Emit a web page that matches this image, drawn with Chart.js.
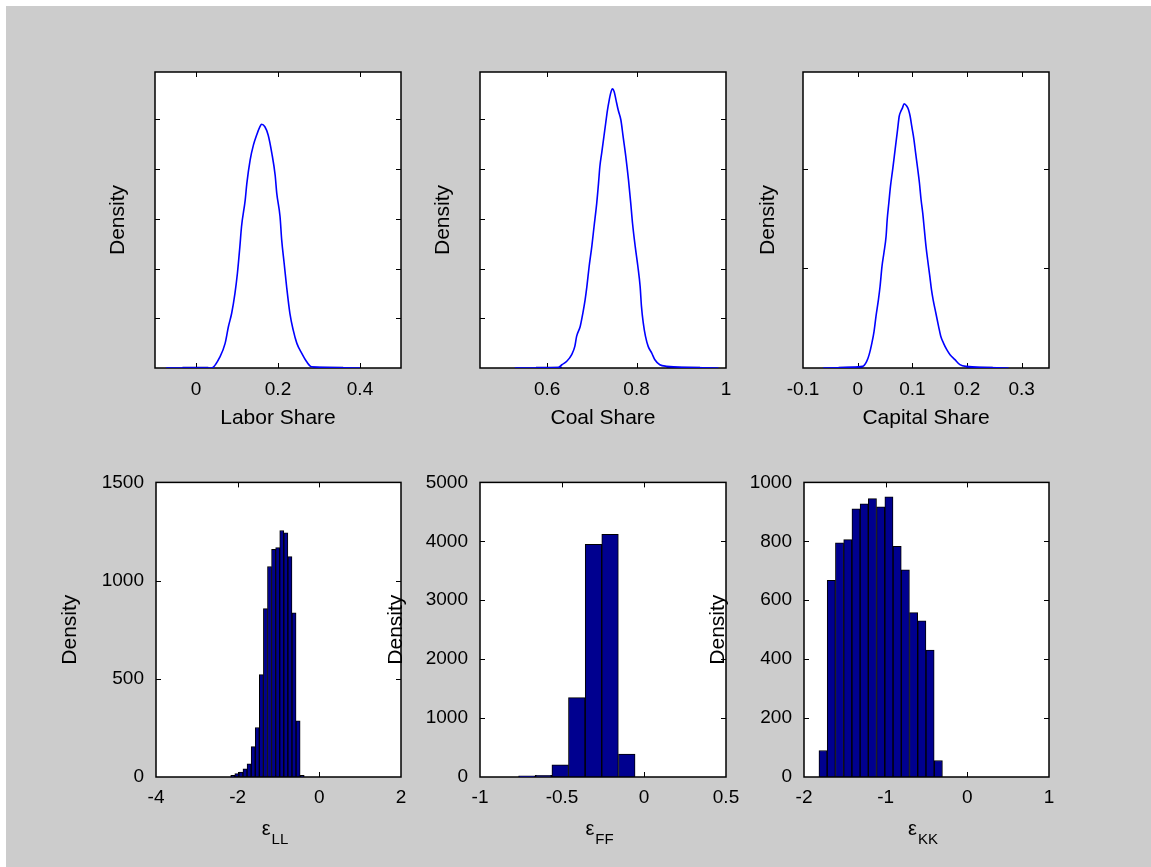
<!DOCTYPE html>
<html>
<head>
<meta charset="utf-8">
<script src="https://cdn.jsdelivr.net/npm/chart.js@4.4.1/dist/chart.umd.min.js"></script>
<style>
  html, body { margin: 0; background: #fff; }
  #fig { position: absolute; left: 6px; top: 6px; width: 1145px; height: 861px; background: #cccccc; }
  canvas { position: absolute; }
</style>
</head>
<body>
<div id="fig"></div>
<script>
// kernel density of the cost shares
const laborShareX = [-0.073, 0.038, 0.0585, 0.071, 0.079, 0.087, 0.095, 0.101, 0.107, 0.111, 0.120, 0.124, 0.132, 0.140, 0.148, 0.156, 0.160, 0.168, 0.176, 0.185, 0.193, 0.197, 0.205, 0.209, 0.215, 0.221, 0.229, 0.237, 0.246, 0.258, 0.270, 0.282, 0.400];
const laborShareDensity = [0, 0, 0.45, 0.99, 1.66, 2.20, 3.00, 3.81, 4.88, 5.68, 6.75, 7.42, 8.36, 8.96, 9.37, 9.70, 9.80, 9.70, 9.37, 8.63, 7.76, 7.02, 6.08, 5.15, 4.21, 3.27, 2.20, 1.53, 0.99, 0.59, 0.25, 0.05, 0];
const laborShareTails = [[-0.033, 0.030], [0.286, 0.359]];
const laborShareTicks = [0, 0.2, 0.4];

const coalShareX = [0.528, 0.625, 0.633, 0.644, 0.655, 0.662, 0.666, 0.674, 0.680, 0.685, 0.689, 0.694, 0.700, 0.705, 0.711, 0.715, 0.718, 0.722, 0.727, 0.731, 0.735, 0.739, 0.742, 0.746, 0.750, 0.754, 0.759, 0.765, 0.770, 0.776, 0.782, 0.787, 0.791, 0.797, 0.803, 0.808, 0.811, 0.815, 0.820, 0.826, 0.834, 0.841, 0.852, 0.867, 0.983];
const coalShareDensity = [0, 0.02, 0.13, 0.27, 0.54, 0.87, 1.27, 1.67, 2.21, 2.74, 3.28, 4.08, 4.89, 5.69, 6.63, 7.43, 8.10, 8.63, 9.30, 9.84, 10.37, 10.78, 11.04, 11.22, 11.11, 10.78, 10.37, 9.97, 9.30, 8.50, 7.56, 6.63, 5.82, 4.89, 4.08, 3.28, 2.48, 1.81, 1.27, 0.87, 0.60, 0.33, 0.13, 0.07, 0];
const coalShareTails = [[0.575, 0.633], [0.867, 0.942]];
const coalShareTicks = [0.6, 0.8, 1];

const capitalShareX = [-0.063, 0.009, 0.0165, 0.021, 0.026, 0.030, 0.0335, 0.038, 0.041, 0.0445, 0.048, 0.052, 0.054, 0.057, 0.060, 0.064, 0.067, 0.070, 0.073, 0.076, 0.079, 0.082, 0.085, 0.090, 0.093, 0.096, 0.099, 0.103, 0.106, 0.110, 0.113, 0.116, 0.119, 0.122, 0.125, 0.128, 0.132, 0.135, 0.138, 0.143, 0.148, 0.152, 0.157, 0.163, 0.169, 0.178, 0.187, 0.199, 0.276];
const capitalShareDensity = [0, 0.08, 0.33, 0.67, 1.25, 1.84, 2.59, 3.43, 4.10, 5.10, 5.77, 6.61, 7.44, 8.28, 9.11, 9.95, 10.62, 11.29, 11.96, 12.63, 12.88, 13.05, 13.26, 13.13, 12.96, 12.63, 12.12, 11.45, 10.79, 9.95, 9.28, 8.44, 7.78, 6.94, 6.10, 5.43, 4.60, 3.93, 3.43, 2.76, 2.09, 1.59, 1.25, 0.92, 0.67, 0.42, 0.17, 0.08, 0];
const capitalShareTails = [[-0.035, 0.009], [0.199, 0.247]];
const capitalShareTicks = [-0.1, 0, 0.1, 0.2, 0.3];

const shareDensityTicks = [0, 2, 4, 6, 8, 10];
const capitalDensityTicks = [0, 5, 10];

// histograms of the own-price elasticities
const eLLBins = [-2.12, -2.02, -1.92, -1.82, -1.72, -1.62, -1.52, -1.42, -1.32, -1.22, -1.12, -1.02, -0.92, -0.82, -0.72, -0.62, -0.52, -0.42];
const eLLCounts = [8, 17, 25, 42, 67, 155, 252, 521, 857, 1072, 1159, 1168, 1255, 1243, 1122, 836, 286, 8];
const eLLTicksX = [-4, -2, 0, 2];
const eLLTicksY = [0, 500, 1000, 1500];

const eFFBins = [-0.714, -0.613, -0.511, -0.410, -0.308, -0.207, -0.105];
const eFFCounts = [20, 28, 206, 1346, 3950, 4117, 389];
const eFFTicksX = [-1, -0.5, 0, 0.5];
const eFFTicksY = [0, 1000, 2000, 3000, 4000, 5000];

const eKKBins = [-1.767, -1.666, -1.565, -1.464, -1.363, -1.263, -1.162, -1.061, -0.960, -0.859, -0.759, -0.658, -0.557, -0.456, -0.355];
const eKKCounts = [90, 668, 795, 806, 910, 927, 945, 917, 951, 783, 703, 558, 530, 431, 56];
const eKKTicksX = [-2, -1, 0, 1];
const eKKTicksY = [0, 200, 400, 600, 800, 1000];

const FONT = 'Arial, "Liberation Sans", sans-serif';
const ML = 100, MT = 20, MR = 30, MB = 80;
const TICK = 5;

Chart.defaults.font.family = FONT;

// white axes box with inward ticks on all four sides
const frame = {
  id: 'frame',
  beforeDatasetsDraw(chart) {
    const { ctx, chartArea: a, scales } = chart;
    ctx.save();
    ctx.fillStyle = '#ffffff';
    ctx.fillRect(a.left, a.top, a.width, a.height);
    ctx.strokeStyle = '#000';
    ctx.lineWidth = 1;
    ctx.beginPath();
    for (const t of scales.x.ticks) {
      const px = Math.round(scales.x.getPixelForValue(t.value)) + 0.5;
      if (px < a.left + 2 || px > a.right - 2) continue;
      ctx.moveTo(px, a.bottom); ctx.lineTo(px, a.bottom - TICK);
      ctx.moveTo(px, a.top); ctx.lineTo(px, a.top + TICK);
    }
    for (const t of scales.y.ticks) {
      const py = Math.round(scales.y.getPixelForValue(t.value)) + 0.5;
      if (py < a.top + 2 || py > a.bottom - 2) continue;
      ctx.moveTo(a.left, py); ctx.lineTo(a.left + TICK, py);
      ctx.moveTo(a.right, py); ctx.lineTo(a.right - TICK, py);
    }
    ctx.stroke();
    ctx.lineWidth = 1.5;
    ctx.strokeRect(a.left, a.top, a.width, a.height);
    ctx.restore();
  }
};

// x label of the form ε with a subscript
const subLabel = {
  id: 'subLabel',
  afterDraw(chart, args, opts) {
    if (!opts.sub) return;
    const { ctx, chartArea: a } = chart;
    ctx.save();
    ctx.fillStyle = '#000';
    ctx.textBaseline = 'middle';
    ctx.textAlign = 'left';
    ctx.font = `20px ${FONT}`;
    const w1 = ctx.measureText(opts.main).width;
    ctx.font = `15px ${FONT}`;
    const w2 = ctx.measureText(opts.sub).width;
    const x0 = (a.left + a.right) / 2 - 4 - (w1 + w2) / 2;
    ctx.font = `20px ${FONT}`;
    ctx.fillText(opts.main, x0, a.bottom + 52);
    ctx.font = `15px ${FONT}`;
    ctx.fillText(opts.sub, x0 + w1 + 1, a.bottom + 63);
    ctx.restore();
  }
};

function axis(min, max, ticks, o) {
  return {
    type: 'linear', min, max, offset: false, bounds: 'data',
    grid: { display: false, drawTicks: false },
    border: { display: false },
    afterBuildTicks: s => { s.ticks = ticks.map(v => ({ value: v })); },
    ticks: {
      display: o.labels !== false,
      padding: o.pad || 0,
      color: '#000',
      font: { family: FONT, size: 19 },
      maxRotation: 0, autoSkip: false,
      callback: v => String(v)
    },
    title: o.title
      ? { display: true, text: o.title, color: '#000', font: { family: FONT, size: 21 }, padding: o.titlePad }
      : { display: false },
    afterFit: o.fit
  };
}

function panel(box, type, datasets, xs, ys, label) {
  const cv = document.createElement('canvas');
  cv.width = box.w + ML + MR;
  cv.height = box.h + MT + MB;
  cv.style.left = (box.x - ML) + 'px';
  cv.style.top = (box.y - MT) + 'px';
  document.body.appendChild(cv);

  const x = axis(xs.min, xs.max, xs.ticks, {
    pad: xs.pad,
    title: xs.title,
    titlePad: { top: 0, bottom: MB - (xs.gap || 0) - 12.6 },
    fit: s => { s.height = MB; }
  });
  const y = axis(ys.min, ys.max, ys.ticks, {
    labels: ys.labels,
    pad: 12,
    title: 'Density',
    titlePad: { top: ML - ys.gap - 12.6, bottom: 0 },
    fit: s => { s.width = ML; }
  });

  return new Chart(cv, {
    type,
    data: { datasets },
    options: {
      responsive: false, animation: false, devicePixelRatio: 1, events: [],
      layout: { padding: { left: 0, top: MT, right: MR, bottom: 0 } },
      plugins: {
        legend: { display: false },
        tooltip: { enabled: false },
        subLabel: label || {}
      },
      scales: { x, y }
    },
    plugins: [frame, subLabel]
  });
}

function densitySets(xs, ys, tails) {
  const sets = [{
    data: xs.map((v, i) => ({ x: v, y: ys[i] })),
    borderColor: '#0000ff', borderWidth: 1.6,
    pointRadius: 0, cubicInterpolationMode: 'monotone'
  }];
  for (const [a, b] of tails) {
    sets.push({
      data: [{ x: a, y: 0 }, { x: b, y: 0 }],
      borderColor: '#000080', borderWidth: 2.5,
      pointRadius: 0
    });
  }
  return sets;
}

function histSet(bins, counts) {
  return [{
    data: bins.map((v, i) => ({ x: v, y: counts[i] })),
    backgroundColor: '#00008f',
    borderColor: '#000000',
    borderWidth: 1,
    borderSkipped: false,
    barPercentage: 1,
    categoryPercentage: 1
  }];
}

const TOP = { y: 72, h: 296 };
const BOT = { y: 479, h: 298 };

panel({ x: 155, w: 246, ...TOP }, 'line',
  densitySets(laborShareX, laborShareDensity, laborShareTails),
  { min: -0.1, max: 0.5, ticks: laborShareTicks, pad: 10, title: 'Labor Share', gap: 50 },
  { min: 0, max: 11.9, ticks: shareDensityTicks, labels: false, gap: 37 });

panel({ x: 480, w: 246, ...TOP }, 'line',
  densitySets(coalShareX, coalShareDensity, coalShareTails),
  { min: 0.45, max: 1, ticks: coalShareTicks, pad: 10, title: 'Coal Share', gap: 50 },
  { min: 0, max: 11.9, ticks: shareDensityTicks, labels: false, gap: 37 });

panel({ x: 803, w: 246, ...TOP }, 'line',
  densitySets(capitalShareX, capitalShareDensity, capitalShareTails),
  { min: -0.1, max: 0.35, ticks: capitalShareTicks, pad: 10, title: 'Capital Share', gap: 50 },
  { min: 0, max: 14.85, ticks: capitalDensityTicks, labels: false, gap: 35 });

panel({ x: 156, w: 245, ...BOT }, 'bar',
  histSet(eLLBins, eLLCounts),
  { min: -4, max: 2, ticks: eLLTicksX, pad: 9 },
  { min: 0, max: 1500, ticks: eLLTicksY, gap: 86 },
  { main: 'ε', sub: 'LL' });

panel({ x: 480, w: 246, ...BOT }, 'bar',
  histSet(eFFBins, eFFCounts),
  { min: -1, max: 0.5, ticks: eFFTicksX, pad: 9 },
  { min: 0, max: 5000, ticks: eFFTicksY, gap: 84 },
  { main: 'ε', sub: 'FF' });

panel({ x: 804, w: 245, ...BOT }, 'bar',
  histSet(eKKBins, eKKCounts),
  { min: -2, max: 1, ticks: eKKTicksX, pad: 9 },
  { min: 0, max: 1000, ticks: eKKTicksY, gap: 86 },
  { main: 'ε', sub: 'KK' });
</script>
</body>
</html>
